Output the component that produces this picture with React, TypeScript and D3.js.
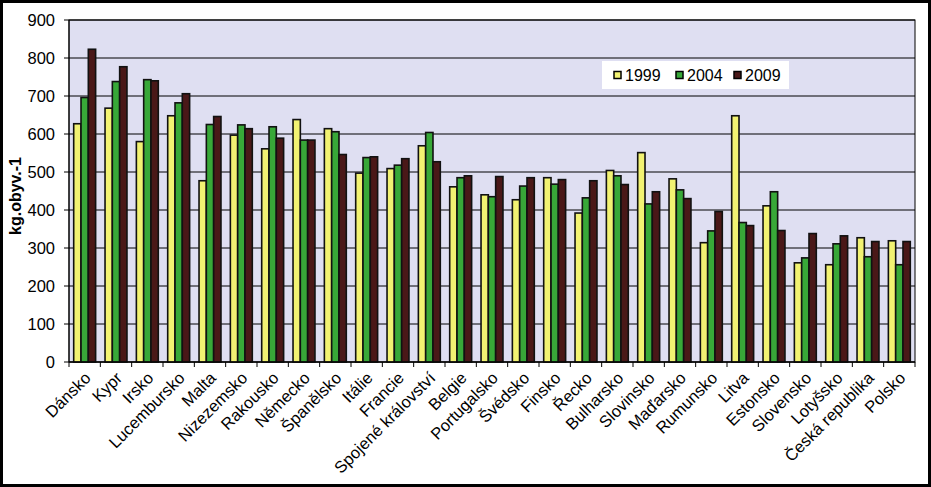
import React from "react";
import * as d3 from "d3";

const countries = [
  "Dánsko", "Kypr", "Irsko", "Lucembursko", "Malta", "Nizezemsko", "Rakousko",
  "Německo", "Španělsko", "Itálie", "Francie", "Spojené království", "Belgie",
  "Portugalsko", "Švédsko", "Finsko", "Řecko", "Bulharsko", "Slovinsko",
  "Maďarsko", "Rumunsko", "Litva", "Estonsko", "Slovensko", "Lotyšsko",
  "Česká republika", "Polsko",
];

const v1999 = [627, 668, 580, 648, 477, 597, 561, 638, 614, 497, 509, 569, 461, 440, 427, 485, 392, 504, 551, 482, 314, 648, 411, 261, 256, 327, 319];
const v2004 = [696, 738, 743, 682, 625, 624, 619, 584, 606, 538, 518, 604, 485, 435, 463, 468, 432, 490, 416, 453, 345, 367, 448, 274, 311, 277, 256];
const v2009 = [823, 777, 740, 706, 646, 614, 589, 584, 546, 540, 535, 527, 490, 488, 485, 480, 477, 467, 448, 430, 396, 359, 346, 338, 332, 317, 317];

const seriesNames = ["1999", "2004", "2009"];
const seriesValues = [v1999, v2004, v2009];
const seriesColors = ["#F2F272", "#38A838", "#4A1818"];
const yTicks = [0, 100, 200, 300, 400, 500, 600, 700, 800, 900];

const W = 931;
const H = 487;
const plot = { left: 69, top: 20, right: 915, bottom: 362 };

export default function App() {
  const x = d3
    .scaleBand<string>()
    .domain(countries)
    .range([plot.left, plot.right])
    .paddingInner(0.3)
    .paddingOuter(0.15);
  const inner = d3
    .scaleBand<string>()
    .domain(seriesNames)
    .range([0, x.bandwidth()]);
  const y = d3.scaleLinear().domain([0, 900]).range([plot.bottom, plot.top]);
  const step = x.step();
  const font = "Arial, 'Liberation Sans', sans-serif";

  return (
    <svg
      width={W}
      height={H}
      style={{ position: "absolute", left: 0, top: 0, display: "block" }}
      fontFamily={font}
    >
      <rect x={1.5} y={1.5} width={W - 3} height={H - 3} fill="#fff" stroke="#000" strokeWidth={3} />
      <rect
        x={plot.left}
        y={plot.top}
        width={plot.right - plot.left}
        height={plot.bottom - plot.top}
        fill="#DFDFF2"
        stroke="#000"
        strokeWidth={1}
      />
      {yTicks.map((t) => (
        <g key={t}>
          <line x1={plot.left - 5} x2={plot.right} y1={y(t)} y2={y(t)} stroke="#000" strokeWidth={1} />
          <text x={55} y={y(t)} dy="0.36em" textAnchor="end" fontSize={16.5} fill="#000">
            {t}
          </text>
        </g>
      ))}
      {countries.map((c, i) => (
        <g key={c}>
          {seriesValues.map((vals, s) => (
            <rect
              key={s}
              x={(x(c) as number) + (inner(seriesNames[s]) as number)}
              y={y(vals[i])}
              width={inner.bandwidth()}
              height={plot.bottom - y(vals[i])}
              fill={seriesColors[s]}
              stroke="#111"
              strokeWidth={1.6}
            />
          ))}
        </g>
      ))}
      <line x1={plot.left} x2={plot.left} y1={plot.top} y2={plot.bottom} stroke="#000" />
      <line x1={plot.left} x2={plot.right} y1={plot.bottom} y2={plot.bottom} stroke="#000" />
      {d3.range(countries.length + 1).map((k) => (
        <line
          key={k}
          x1={plot.left + k * step}
          x2={plot.left + k * step}
          y1={plot.bottom}
          y2={plot.bottom + 5}
          stroke="#000"
        />
      ))}
      {countries.map((c) => {
        const cx = (x(c) as number) + x.bandwidth() / 2 + 3;
        return (
          <text
            key={c}
            transform={`translate(${cx},${plot.bottom + 13}) rotate(-45)`}
            textAnchor="end"
            dy="0.35em"
            fontSize={16.5}
            fill="#000"
          >
            {c}
          </text>
        );
      })}
      <text
        transform={`translate(21,196) rotate(-90)`}
        textAnchor="middle"
        fontSize={16}
        fontWeight="bold"
        fill="#000"
      >
        kg.obyv.-1
      </text>
      <g>
        <rect x={602} y={61} width={187} height={28} fill="#fff" />
        {seriesNames.map((n, s) => {
          const lx = [614, 676, 734][s];
          return (
            <g key={n}>
              <rect x={lx} y={71.5} width={7} height={7} fill={seriesColors[s]} stroke="#000" strokeWidth={1.5} />
              <text x={lx + 11} y={75} dy="0.36em" fontSize={16} fill="#000">
                {n}
              </text>
            </g>
          );
        })}
      </g>
    </svg>
  );
}
